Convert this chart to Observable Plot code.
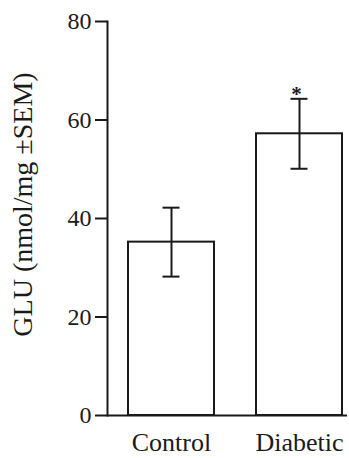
<!DOCTYPE html>
<html><head><meta charset="utf-8">
<script src="https://cdn.jsdelivr.net/npm/d3@7"></script>
<script src="https://cdn.jsdelivr.net/npm/@observablehq/plot@0.6"></script>
<style>body{margin:0;background:#fff}</style>
</head><body><div id="chart"></div>
<script>
const categories = ["Control", "Diabetic"];
const means = [35.2, 57.2];
const sems = [7.0, 7.1];
const significance = ["", "*"];
const yTicks = [0, 20, 40, 60, 80];
const yLabel = "GLU (nmol/mg ±SEM)";

const data = categories.map((c, i) => ({
  group: c, mean: means[i], lo: means[i] - sems[i], hi: means[i] + sems[i], sig: significance[i]
}));

const ink = "#1a1a1a";
const chart = Plot.plot({
  width: 349, height: 458,
  marginLeft: 107, marginRight: 2, marginTop: 21, marginBottom: 43,
  style: {fontFamily: "'Liberation Serif', 'Times New Roman', serif", background: "#fff", color: ink},
  x: {domain: categories, paddingInner: 0.33, paddingOuter: 0.1, align: 0.8, label: null},
  y: {domain: [0, 80], ticks: yTicks, label: null},
  marks: [
    Plot.barY(data, {x: "group", y: "mean", fill: "white", stroke: ink, strokeWidth: 2}),
    Plot.ruleY([0], {stroke: ink, strokeWidth: 2}),
    Plot.frame({anchor: "left", stroke: ink, strokeWidth: 2}),
    Plot.ruleX(data, {x: "group", y1: "lo", y2: "hi", stroke: ink, strokeWidth: 2}),
    Plot.tickY(data, {x: "group", y: "lo", inset: 34.5, stroke: ink, strokeWidth: 2}),
    Plot.tickY(data, {x: "group", y: "hi", inset: 34.5, stroke: ink, strokeWidth: 2}),
    Plot.text(data, {x: "group", y: "hi", text: "sig", fontSize: 21, dy: -5, dx: -3, fill: ink, fontWeight: "bold"}),
    Plot.axisY({ticks: yTicks, tickSize: 12, tickPadding: 4, fontSize: 24, strokeWidth: 2, label: null}),
    Plot.axisX({tickSize: 0, tickPadding: 17, fontSize: 26, label: null}),
    Plot.text([yLabel], {frameAnchor: "left", textAnchor: "middle", rotate: -90, fontSize: 28, dx: -84, dy: -14, text: d => d, fill: ink})
  ]
});
document.getElementById("chart").append(chart);
</script>
</body></html>
